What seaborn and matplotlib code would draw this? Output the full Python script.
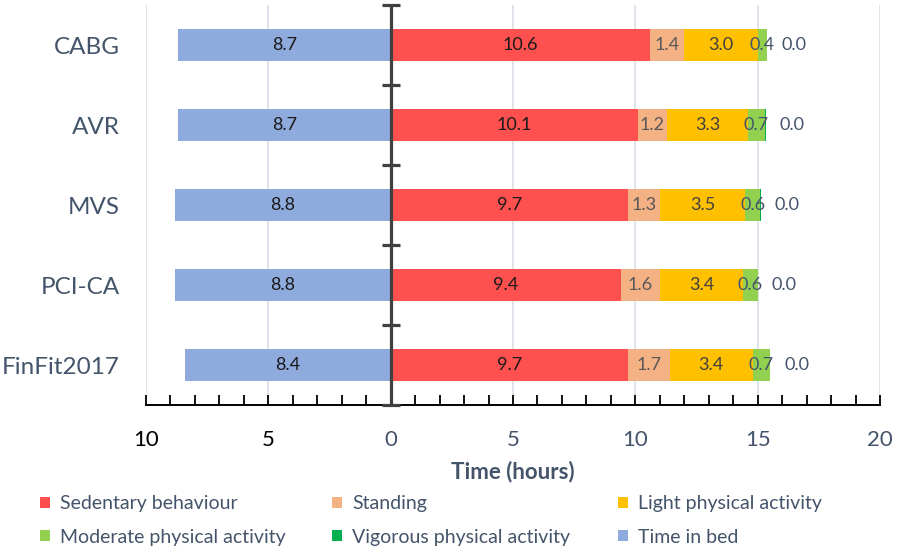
import numpy as np
import pandas as pd
import matplotlib.pyplot as plt
from matplotlib.patches import Patch
import seaborn as sns

# Dados (horas por dia)
categories = ["CABG", "AVR", "MVS", "PCI-CA", "FinFit2017"]
time_in_bed = [8.7, 8.7, 8.8, 8.8, 8.4]
sedentary = [10.6, 10.1, 9.7, 9.4, 9.7]
standing = [1.4, 1.2, 1.3, 1.6, 1.7]
light = [3.0, 3.3, 3.5, 3.4, 3.4]
moderate = [0.4, 0.7, 0.6, 0.6, 0.7]
vigorous = [0.0, 0.03, 0.02, 0.01, 0.02]

activities = ["Sedentary behaviour", "Standing", "Light physical activity",
              "Moderate physical activity", "Vigorous physical activity"]
activity_values = [sedentary, standing, light, moderate, vigorous]
bed_label = "Time in bed"

colors = {
    "Sedentary behaviour": "#FF5050",
    "Standing": "#F4B183",
    "Light physical activity": "#FFC000",
    "Moderate physical activity": "#92D050",
    "Vigorous physical activity": "#00B050",
    "Time in bed": "#8FAADC",
}
label_colors = {
    "Sedentary behaviour": "#1a1a1a",
    "Standing": "#595959",
    "Light physical activity": "#404040",
    "Moderate physical activity": "#44546A",
    "Vigorous physical activity": "#44546A",
    "Time in bed": "#1a1a1a",
}
SLATE = "#44546A"

sns.set_theme(style="white")
plt.rcParams["font.family"] = ["Lato", "DejaVu Sans"]

# Tabela longa com inícios e fins acumulados
rows = []
for i, cat in enumerate(categories):
    start = 0.0
    for act, vals in zip(activities, activity_values):
        rows.append({"group": cat, "activity": act, "value": vals[i],
                     "start": start, "end": start + vals[i]})
        start += vals[i]
    rows.append({"group": cat, "activity": bed_label, "value": time_in_bed[i],
                 "start": 0.0, "end": -time_in_bed[i]})
df = pd.DataFrame(rows)

fig = plt.figure(figsize=(9.04, 5.48), dpi=100)
ax = fig.add_axes([146 / 904, 143 / 548, 734 / 904, 400 / 548])

# Barras empilhadas: desenhar do acumulado maior para o menor
for act in reversed(activities):
    sub = df[df["activity"] == act]
    sns.barplot(data=sub, x="end", y="group", order=categories, orient="h",
                color=colors[act], saturation=1, width=0.4, linewidth=0,
                errorbar=None, ax=ax)
sub = df[df["activity"] == bed_label]
sns.barplot(data=sub, x="end", y="group", order=categories, orient="h",
            color=colors[bed_label], saturation=1, width=0.4, linewidth=0,
            errorbar=None, ax=ax)

# Rótulos dos segmentos
for _, r in df.iterrows():
    y = categories.index(r["group"])
    txt = f"{r['value']:.1f}"
    col = label_colors[r["activity"]]
    if r["activity"] == "Vigorous physical activity":
        ax.annotate(txt, (r["end"], y), xytext=(10, 0), textcoords="offset points",
                    ha="left", va="center", fontsize=13, color=col)
    else:
        ax.text((r["start"] + r["end"]) / 2, y, txt, ha="center", va="center",
                fontsize=13, color=col)

ax.set_xlim(-10, 20)
ax.set_ylim(len(categories) - 0.5, -0.5)

# Grade vertical
ax.set_xticks(np.arange(-10, 21, 5))
ax.set_xticks(np.arange(-10, 21, 1), minor=True)
ax.grid(axis="x", which="major", color="#D9DEE6", linewidth=1.2)
ax.set_axisbelow(True)

# Eixo zero com marcas entre categorias
ax.axvline(0, color="#404040", linewidth=2.3, zorder=5)
bounds = np.arange(len(categories) + 1) - 0.5
ax.plot(np.zeros_like(bounds), bounds, ls="none", marker="_", markersize=13,
        markeredgewidth=2.3, color="#404040", clip_on=False, zorder=6)

for s in ["top", "right", "left"]:
    ax.spines[s].set_visible(False)
ax.spines["bottom"].set_color("black")
ax.spines["bottom"].set_linewidth(1.4)

ax.tick_params(axis="x", which="both", direction="in", length=7, width=1.3,
               color="black", bottom=True)
ax.tick_params(axis="x", which="major", pad=18, labelsize=16)
ax.set_xticklabels([str(abs(int(t))) for t in np.arange(-10, 21, 5)])
for t, lab in zip(np.arange(-10, 21, 5), ax.get_xticklabels()):
    lab.set_color("black" if t < 0 else SLATE)

ax.tick_params(axis="y", length=0, pad=19, labelsize=17.5, labelcolor=SLATE)
ax.set_ylabel("")
ax.set_xlabel("Time (hours)", fontsize=16, fontweight="bold", color=SLATE,
              labelpad=8)

# Legenda em três colunas
legend_order = [
    ["Sedentary behaviour", "Moderate physical activity"],
    ["Standing", "Vigorous physical activity"],
    ["Light physical activity", "Time in bed"],
]
col_x = [40, 332, 618]
for names, x0 in zip(legend_order, col_x):
    handles = [Patch(facecolor=colors[n], edgecolor="none") for n in names]
    fig.legend(handles, names, loc="upper left",
               bbox_to_anchor=(x0 / 904, 1 - 495 / 548), frameon=False,
               fontsize=14, handlelength=0.5, handleheight=0.5,
               handletextpad=0.55, labelspacing=0.85, borderpad=0,
               borderaxespad=0, labelcolor=SLATE)

fig.savefig("out.png", dpi=100)
